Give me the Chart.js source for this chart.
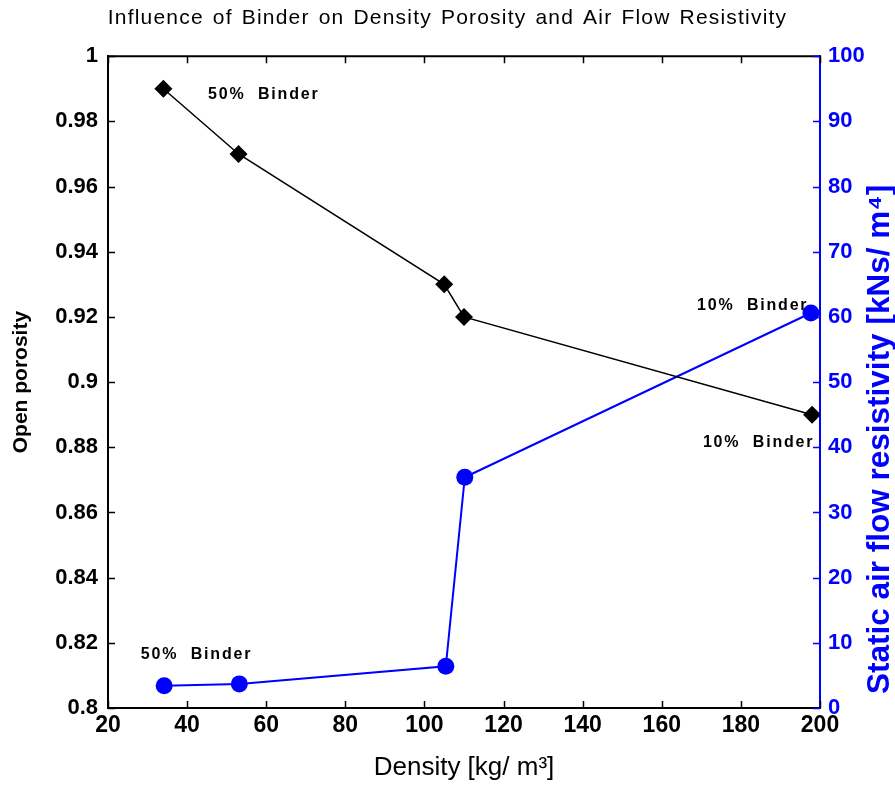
<!DOCTYPE html>
<html>
<head>
<meta charset="utf-8">
<script src="https://cdn.jsdelivr.net/npm/chart.js@4.4.1/dist/chart.umd.min.js"></script>
<style>
  html, body { margin: 0; padding: 0; background: #fff; }
  #wrap { width: 895px; height: 785px; position: relative; }
</style>
</head>
<body>
<div id="wrap"><canvas id="c"></canvas></div>
<script>
// ---- data ----
const densityPorosity = [34, 53, 105, 110, 198];
const porosityValues  = [0.99, 0.97, 0.93, 0.92, 0.89];
const densityAir      = [34.2, 53.2, 105.4, 110.2, 197.7];
const airFlowValues   = [3.4, 3.7, 6.4, 35.4, 60.6];
const xTickValues     = [20, 40, 60, 80, 100, 120, 140, 160, 180, 200];
const porosityTicks   = [0.8, 0.82, 0.84, 0.86, 0.88, 0.9, 0.92, 0.94, 0.96, 0.98, 1];
const porosityTickLabels = ['0.8','0.82','0.84','0.86','0.88','0.9','0.92','0.94','0.96','0.98','1'];
const airTicks        = [0, 10, 20, 30, 40, 50, 60, 70, 80, 90, 100];
const annotationTexts = ['50%  Binder', '10%  Binder', '10%  Binder', '50%  Binder'];
const annotationX     = [45.3, 168.9, 170.4, 28.3];
const annotationY     = [0.9882, 61.7, 0.8813, 0.8163];
const annotationAxis  = ['y', 'y2', 'y', 'y'];
const rightAxisTitle  = 'Static air flow resistivity [kNs/ m⁴]';

const BLUE = '#0000ff';
const FONT = "'Liberation Sans', Arial, sans-serif";

const ticksPlugin = {
  id: 'inwardTicks',
  beforeDraw(chart) {
    const tb = chart.titleBlock;
    if (tb && !tb._spaced) {
      const orig = tb.draw;
      tb.draw = function () {
        const ctx = this.ctx || chart.ctx;
        ctx.save();
        try { ctx.letterSpacing = '1.2px'; ctx.wordSpacing = '2px'; } catch (e) {}
        orig.apply(this, arguments);
        ctx.restore();
      };
      tb._spaced = true;
    }
  },
  afterDatasetsDraw(chart) {
    const ctx = chart.ctx;
    const a = chart.chartArea;
    const xs = chart.scales.x, y = chart.scales.y, y2 = chart.scales.y2;
    const L = 7;
    ctx.save();
    ctx.lineWidth = 2;
    // top border
    ctx.strokeStyle = '#000';
    ctx.beginPath();
    ctx.moveTo(a.left, a.top); ctx.lineTo(a.right, a.top);
    ctx.stroke();
    ctx.lineWidth = 1.5;
    ctx.beginPath();
    xTickValues.forEach(v => {
      const px = Math.round(xs.getPixelForValue(v)) + 0.5;
      ctx.moveTo(px, a.bottom); ctx.lineTo(px, a.bottom - L);
      ctx.moveTo(px, a.top); ctx.lineTo(px, a.top + L);
    });
    porosityTicks.forEach(v => {
      const py = Math.round(y.getPixelForValue(v)) + 0.5;
      ctx.moveTo(a.left, py); ctx.lineTo(a.left + L, py);
    });
    ctx.stroke();
    ctx.strokeStyle = BLUE;
    ctx.beginPath();
    airTicks.forEach(v => {
      const py = Math.round(y2.getPixelForValue(v)) + 0.5;
      ctx.moveTo(a.right, py); ctx.lineTo(a.right - L, py);
    });
    ctx.stroke();
    // annotations
    ctx.fillStyle = '#000';
    ctx.font = 'bold 16px ' + FONT;
    try { ctx.letterSpacing = '1.8px'; } catch (e) {}
    ctx.textAlign = 'left';
    ctx.textBaseline = 'middle';
    annotationTexts.forEach((t, i) => {
      const sc = chart.scales[annotationAxis[i]];
      ctx.fillText(t, xs.getPixelForValue(annotationX[i]), sc.getPixelForValue(annotationY[i]));
    });
    ctx.restore();
    // right axis title, reading bottom-to-top like the reference
    ctx.save();
    try { ctx.letterSpacing = '0px'; } catch (e) {}
    ctx.fillStyle = BLUE;
    ctx.font = 'bold 31.5px ' + FONT;
    ctx.textAlign = 'left';
    ctx.textBaseline = 'middle';
    ctx.translate(y2.right - 15, y2.bottom - 14);
    ctx.rotate(-Math.PI / 2);
    ctx.fillText(rightAxisTitle, 0, 0);
    ctx.restore();
  }
};

new Chart(document.getElementById('c'), {
  type: 'line',
  data: {
    datasets: [
      {
        label: 'Open porosity',
        data: densityPorosity.map((x, i) => ({ x, y: porosityValues[i] })),
        yAxisID: 'y',
        borderColor: '#000',
        backgroundColor: '#000',
        borderWidth: 1.5,
        pointStyle: 'rectRot',
        pointRadius: 9,
        pointBorderWidth: 0,
        pointHoverRadius: 9,
        tension: 0
      },
      {
        label: 'Static air flow resistivity',
        data: densityAir.map((x, i) => ({ x, y: airFlowValues[i] })),
        yAxisID: 'y2',
        borderColor: BLUE,
        backgroundColor: BLUE,
        borderWidth: 2,
        pointStyle: 'circle',
        pointRadius: 8.5,
        pointBorderWidth: 0,
        pointHoverRadius: 8.5,
        tension: 0
      }
    ]
  },
  options: {
    responsive: true,
    maintainAspectRatio: false,
    animation: false,
    events: [],
    layout: { padding: 0 },
    plugins: {
      legend: { display: false },
      tooltip: { enabled: false },
      title: {
        display: true,
        text: 'Influence of Binder on Density Porosity and Air Flow Resistivity',
        color: '#000',
        font: { family: FONT, size: 21, weight: 'normal', lineHeight: 1.2 },
        padding: { top: 6, bottom: 25 }
      }
    },
    scales: {
      x: {
        type: 'linear',
        min: 20, max: 200,
        afterBuildTicks: s => { s.ticks = xTickValues.map(v => ({ value: v })); },
        afterFit: s => { s.height = 77; },
        grid: { display: false, drawTicks: false, tickLength: 0 },
        border: { display: true, color: '#000', width: 2 },
        ticks: { color: '#000', font: { family: FONT, size: 23, weight: 'bold' }, padding: 4, maxRotation: 0, autoSkip: false },
        title: { display: true, text: 'Density [kg/ m³]', color: '#000', font: { family: FONT, size: 26, weight: 'normal', lineHeight: 1 }, padding: { top: 0, bottom: 4 } }
      },
      y: {
        type: 'linear', position: 'left',
        min: 0.8, max: 1,
        afterBuildTicks: s => { s.ticks = porosityTicks.map(v => ({ value: v })); },
        afterFit: s => { s.width = 108; },
        grid: { display: false, drawTicks: false, tickLength: 0 },
        border: { display: true, color: '#000', width: 2 },
        ticks: { color: '#000', font: { family: FONT, size: 22, weight: 'bold' }, padding: 10,
                 callback: (v, i) => porosityTickLabels[i] },
        title: { display: true, text: 'Open porosity', color: '#000', font: { family: FONT, size: 21, weight: 'bold' }, padding: { top: 9, bottom: 0 } }
      },
      y2: {
        type: 'linear', position: 'right',
        min: 0, max: 100,
        afterBuildTicks: s => { s.ticks = airTicks.map(v => ({ value: v })); },
        afterFit: s => { s.width = 75; },
        grid: { display: false, drawTicks: false, tickLength: 0 },
        border: { display: true, color: BLUE, width: 2 },
        ticks: { color: BLUE, font: { family: FONT, size: 22, weight: 'bold' }, padding: 8 },
        title: { display: false, text: rightAxisTitle }
      }
    }
  },
  plugins: [ticksPlugin]
});
</script>
</body>
</html>
